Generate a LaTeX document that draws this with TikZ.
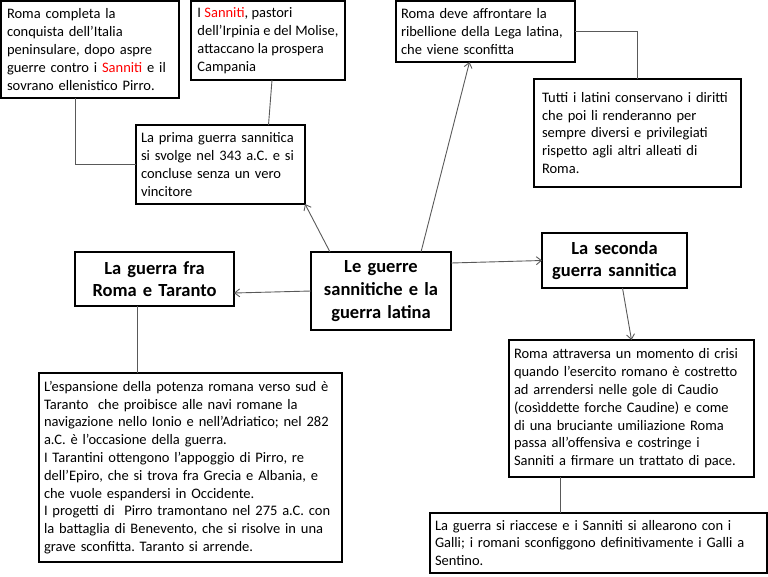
\documentclass[tikz,border=0pt]{standalone}
\usepackage{fontspec}
\setmainfont{Carlito}
\frenchspacing
\usetikzlibrary{arrows.meta}

\tikzset{
  box/.style={draw=black, line width=1.8pt, fill=white, outer sep=0pt, inner xsep=5pt, inner ysep=3pt,
    align=left, anchor=north west, font=\fontsize{14.5}{17.8}\selectfont},
  titolo/.style={box, align=center, font=\fontsize{18.5}{22.6}\selectfont\bfseries},
  linea/.style={draw=black!65, line width=0.9pt},
  freccia/.style={linea, -{Straight Barb[length=5pt,width=8pt]}}
}
\newcommand{\rosso}[1]{\textcolor{red}{#1}}

\begin{document}
\begin{tikzpicture}[x=1pt,y=-1pt]
		\useasboundingbox (0,0) rectangle (768,576);
		
		% Titolo centrale e titoli delle guerre
		\node[titolo, text width=130pt, minimum height=78pt] (centro) at (311,252) {Le guerre\\sannitiche e la\\guerra latina};
		\node[titolo, text width=149pt, minimum height=54pt] (taranto) at (75,252) {La guerra fra\\Roma e Taranto};
		\node[titolo, text width=135pt, minimum height=55pt] (seconda) at (542,233) {La seconda\\guerra sannitica};
		
		% Prima guerra sannitica
		\node[box, text width=166pt, inner xsep=6pt, minimum height=97pt] (conquista) at (1,1) {Roma completa la\\conquista dell’Italia\\peninsulare, dopo aspre\\guerre contro i \rosso{Sanniti} e il\\sovrano ellenistico Pirro.};
		\node[box, minimum width=154pt, minimum height=79pt] (sanniti) at (191,1) {I \rosso{Sanniti}, pastori\\dell’Irpinia e del Molise,\\attaccano la prospera\\Campania};
		\node[box, text width=159pt, minimum height=79pt] (prima) at (136,125) {La prima guerra sannitica\\si svolge nel 343 a.C. e si\\concluse senza un vero\\vincitore};
		
		% Lega latina
		\node[box, text width=169pt, minimum height=61pt] (lega) at (396,1) {Roma deve affrontare la\\ribellione della Lega latina,\\che viene sconfitta};
		\node[box, text width=191pt, inner xsep=8pt, minimum height=108pt] (latini) at (534,79) {Tutti i latini conservano i diritti\\che poi li renderanno per\\sempre diversi e privilegiati\\rispetto agli altri alleati di\\Roma.};
		
		% Taranto
		\node[box, text width=293pt, minimum height=189pt] (pirro) at (39,373) {L’espansione della potenza romana verso sud è\\Taranto\ \ che proibisce alle navi romane la\\navigazione nello Ionio e nell’Adriatico; nel 282\\a.C. è l’occasione della guerra.\\I Tarantini ottengono l’appoggio di Pirro, re\\dell’Epiro, che si trova fra Grecia e Albania, e\\che vuole espandersi in Occidente.\\I progetti di\ \ Pirro tramontano nel 275 a.C. con\\la battaglia di Benevento, che si risolve in una\\grave sconfitta. Taranto si arrende.};
		
		% Seconda guerra sannitica
		\node[box, text width=235pt, minimum height=137pt] (caudio) at (509,340) {Roma attraversa un momento di crisi\\quando l’esercito romano è costretto\\ad arrendersi nelle gole di Caudio\\(cosìddette forche Caudine) e come\\di una bruciante umiliazione Roma\\passa all’offensiva e costringe i\\Sanniti a firmare un trattato di pace.};
		\node[box, text width=327pt, minimum height=60pt] (sentino) at (430,513) {La guerra si riaccese e i Sanniti si allearono con i\\Galli; i romani sconfiggono definitivamente i Galli a\\Sentino.};
		
		% Collegamenti
		\draw[linea] ([xshift=-15pt]conquista.south) |- (prima.west);
		\draw[linea] ([xshift=4pt]sanniti.south) -- ([xshift=48pt]prima.north);
		\draw[freccia] ([xshift=19pt]centro.north west) -- (prima.south east);
		\draw[freccia] ([xshift=110pt]centro.north west) -- ([xshift=-16pt]lega.south);
		\draw[linea] (lega.east) -| (latini.north);
		\draw[freccia] (centro.west) -- ([yshift=-14pt]taranto.east);
		\draw[linea] ([xshift=-17.5pt]taranto.south) -- ([xshift=-17.5pt]taranto.south |- pirro.north);
		\draw[freccia] ([yshift=28pt]centro.east) -- (seconda.west);
		\draw[freccia] ([xshift=8pt]seconda.south) -- (caudio.north);
		\draw[linea] ([xshift=-71.5pt]caudio.south) -- ([xshift=-71.5pt]caudio.south |- sentino.north);

	\end{tikzpicture}
\end{document}
